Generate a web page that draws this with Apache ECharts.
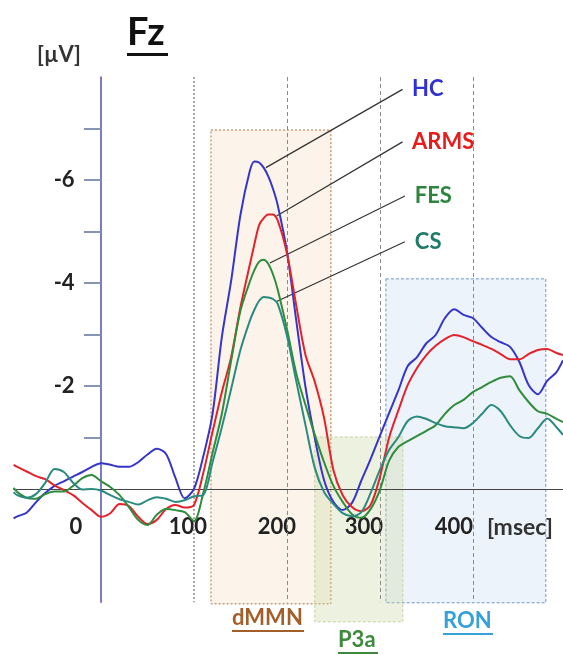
<!DOCTYPE html>
<html><head><meta charset="utf-8">
<script src="https://cdn.jsdelivr.net/npm/echarts@6/dist/echarts.min.js"></script>
<style>html,body{margin:0;padding:0;background:#fff}#c{width:563px;height:654px}</style>
</head><body><div id="c"></div>
<script>
// time axis (ms)
const times = [-94,-90,-80,-70,-60,-50,-40,-30,-20,-10,0,10,20,30,40,50,60,70,80,90,100,110,120,130,140,150,160,165,170,175,180,185,190,200,210,220,230,240,250,260,270,280,290,300,310,320,330,340,350,360,370,380,390,400,410,420,430,440,450,460,470,480,490,497];
// amplitudes (µV)
const hc = [0.57,0.53,0.46,0.26,0.08,-0.06,-0.15,-0.24,-0.33,-0.43,
  -0.50,-0.47,-0.43,-0.43,-0.52,-0.67,-0.78,-0.68,-0.22,0.18,0.00,-0.63,-1.46,-2.95,-4.04,-5.32,
  -6.17,-6.36,-6.34,-6.24,-6.07,-5.83,-5.52,
  -4.62,-3.28,-1.98,-0.99,-0.17,0.25,0.41,0.27,-0.16,-0.58,-1.03,-1.48,-1.92,-2.39,-2.56,-2.83,-2.99,-3.32,-3.49,-3.38,-3.32,-3.13,-2.95,-2.85,-2.76,-2.47,-2.02,-1.84,-2.10,-2.27,
  -2.50];
const arms = [-0.47,-0.43,-0.34,-0.25,-0.19,-0.07,0.02,0.12,0.27,0.41,
  0.54,0.47,0.29,0.33,0.54,0.68,0.60,0.39,0.31,0.36,0.31,-0.31,-1.11,-1.88,-2.56,-3.53,
  -4.35,-4.75,-5.12,-5.26,-5.33,-5.33,-5.22,
  -4.58,-3.57,-2.60,-2.08,-1.38,-0.37,0.12,0.35,0.43,0.31,-0.23,-1.00,-1.53,-2.02,-2.35,-2.60,-2.78,-2.91,-2.99,-2.95,-2.87,-2.80,-2.72,-2.62,-2.52,-2.52,-2.62,-2.70,-2.72,-2.64,
  -2.60];
const fes = [-0.02,0.06,0.17,0.19,0.10,0.05,0.05,-0.06,-0.21,-0.27,
  -0.15,-0.04,0.12,0.35,0.60,0.70,0.50,0.39,0.41,0.45,0.62,0.08,-0.70,-1.46,-2.49,-3.46,
  -4.02,-4.25,-4.41,-4.45,-4.37,-4.17,-3.88,
  -3.11,-2.25,-1.63,-1.05,-0.52,-0.06,0.25,0.49,0.56,0.39,0.02,-0.55,-0.82,-0.93,-1.03,-1.13,-1.24,-1.46,-1.63,-1.73,-1.88,-1.98,-2.08,-2.16,-2.19,-1.92,-1.69,-1.51,-1.46,-1.36,
  -1.30];
const cs = [0.06,0.12,0.17,0.10,-0.12,-0.39,-0.33,-0.12,0.01,0.00,
  0.03,0.12,0.20,0.25,0.30,0.22,0.16,0.19,0.25,0.22,0.14,0.12,-0.52,-1.20,-1.94,-2.70,
  -3.26,-3.48,-3.65,-3.73,-3.72,-3.69,-3.60,
  -2.98,-2.10,-1.24,-0.41,0.06,0.29,0.47,0.53,0.45,0.08,-0.37,-0.76,-1.01,-1.32,-1.41,-1.36,-1.28,-1.22,-1.20,-1.18,-1.28,-1.46,-1.63,-1.51,-1.24,-1.03,-0.99,-1.18,-1.37,-1.20,
  -1.05];
const groupNames = ['HC','ARMS','FES','CS'];
// leader lines: [t1, v1, t2, v2]
const leaders = [[177.4,-6.24,324.4,-7.76],[188.9,-5.30,324.4,-6.74],[181.7,-4.39,326.9,-5.69],[188.9,-3.64,326.9,-4.80]];
// component windows: [tStart, tEnd, vTop, vBottom]
const windowNames = ['dMMN','RON','P3a'];
const windows = [[118.3,247.3,-6.97,2.23],[306.5,478.5,-4.08,2.21],[230,324.7,-1.01,2.58]];
const xTicks = [0,100,200,300,400];
const yTicks = [-7,-6,-5,-4,-3,-2,-1];
const yLabels = [-6,-4,-2];
const refLines = [100,200,300,400];

const FONT = 'Lato';
const colors = ['#3535c9','#e3232b','#2f8c3c','#2a8a80'];
const textColors = ['#3030d2','#e81c1c','#2e8540','#1f7a6a'];
const values = [hc, arms, fes, cs];
const xShift = {0:50,100:12,200:20,300:32,400:38};
const xRich = {};
xTicks.forEach(v => { xRich['s'+(v)] = {padding:[0,xShift[v],0,0], fontSize:22, fontWeight:'bold', fontFamily:FONT, color:'#222'}; });

const winStyles = [
  {color:'rgba(240,205,160,0.22)', borderColor:'#b0703a', borderWidth:1, borderType:[2,2]},
  {color:'rgba(190,212,238,0.28)', borderColor:'#7095d0', borderWidth:1, borderType:[3,2]},
  {color:'rgba(200,216,160,0.32)', borderColor:'#c3d29c', borderWidth:1, borderType:[3,2]}
];

const series = [];
series.push({
  type:'line', data:[], z:1, silent:true, xAxisIndex:1, yAxisIndex:1,
  markArea:{silent:true, data: windows.map((w,i)=>[{coord:[w[0],w[2]], itemStyle:winStyles[i]},{coord:[w[1],w[3]]}])}
});
series.push({
  type:'line', data:[], z:2, silent:true,
  markLine:{silent:true, symbol:['none','none'], label:{show:false},
    data: refLines.map((x,i)=>({xAxis:x, lineStyle: i===0 ? {color:'#a8a8a8', width:2, type:[2,2]} : {color:'#8a8a8a', width:1, type:[4,3]}}))}
});
values.forEach((vals,i)=>{
  const L = leaders[i];
  series.push({
    name: groupNames[i], type:'line', z:5 + i,
    data: times.map((t,k)=>[t, vals[k]]),
    showSymbol:false, smooth:0.3,
    lineStyle:{color:colors[i], width:2},
    itemStyle:{color:colors[i]},
    emphasis:{disabled:true},
    markLine:{silent:true, symbol:['none','none'],
      lineStyle:{color:'#333', width:1.2, type:'solid'},
      label:{show:true, position:'end', formatter: groupNames[i], color:textColors[i], fontSize:22, fontWeight:'bold', fontFamily:FONT, distance:[11,0]},
      data:[[{coord:[L[0],L[1]]},{coord:[L[2],L[3]]}]]}
  });
});

const chart = echarts.init(document.getElementById('c'));
chart.setOption({
  animation:false,
  backgroundColor:'#fff',
  grid:[
    {left:13.6, right:0, top:77, bottom:51.7, containLabel:false, outerBoundsMode:'none'},
    {left:13.6, right:0, top:77, bottom:32, containLabel:false, outerBoundsMode:'none'}
  ],
  xAxis:[{type:'value', min:-94, max:497, gridIndex:0, z:3,
    axisLine:{onZero:true, lineStyle:{color:'#444', width:1}},
    axisTick:{show:false}, splitLine:{show:false},
    axisLabel:{customValues:xTicks, margin:-86, formatter: v => '{s'+v+'|'+v+'}', rich:xRich}
  },{type:'value', min:-94, max:497, gridIndex:1, show:false}],
  yAxis:[{type:'value', inverse:true, min:-8, max:2.2, gridIndex:0, z:3,
    axisLine:{onZero:true, lineStyle:{color:'#4f4fb0', width:1.5}},
    axisTick:{customValues:yTicks, length:17, lineStyle:{color:'#8595b5', width:2}},
    axisLabel:{customValues:yLabels, margin:-61, fontSize:22, fontWeight:'bold', fontFamily:FONT, color:'#222'},
    splitLine:{show:false}
  },{type:'value', inverse:true, min:-8, max:2.583, gridIndex:1, show:false}],
  series: series,
  graphic:[
    {type:'text', left:127, top:14, z:100, style:{text:'{t|Fz}\n{u|}', align:'center', rich:{t:{fontSize:38, fontWeight:'bold', fontFamily:FONT, fill:'#111', lineHeight:40}, u:{width:41, height:3, backgroundColor:'#111'}}}},
    {type:'text', left:37, top:44, z:100, style:{text:'[µV]', fontSize:22, fontWeight:'bold', fontFamily:FONT, fill:'#333'}},
    {type:'text', left:487, top:516, z:100, style:{text:'[msec]', fontSize:23, fontWeight:'bold', fontFamily:FONT, fill:'#333'}},
    {type:'text', left:232, top:607, z:100, style:{text:'{t|'+windowNames[0]+'}\n{u|}', align:'center', rich:{t:{fontSize:22, fontWeight:'bold', fontFamily:FONT, fill:'#a35f2a', lineHeight:24}, u:{width:72, height:2, backgroundColor:'#a35f2a'}}}},
    {type:'text', left:443, top:610, z:100, style:{text:'{t|'+windowNames[1]+'}\n{u|}', align:'center', rich:{t:{fontSize:22, fontWeight:'bold', fontFamily:FONT, fill:'#36a0d8', lineHeight:24}, u:{width:50, height:2, backgroundColor:'#36a0d8'}}}},
    {type:'text', left:338, top:629, z:100, style:{text:'{t|'+windowNames[2]+'}\n{u|}', align:'center', rich:{t:{fontSize:22, fontWeight:'bold', fontFamily:FONT, fill:'#3e8a3c', lineHeight:24}, u:{width:40, height:2, backgroundColor:'#3e8a3c'}}}}
  ]
});
</script>
</body></html>
